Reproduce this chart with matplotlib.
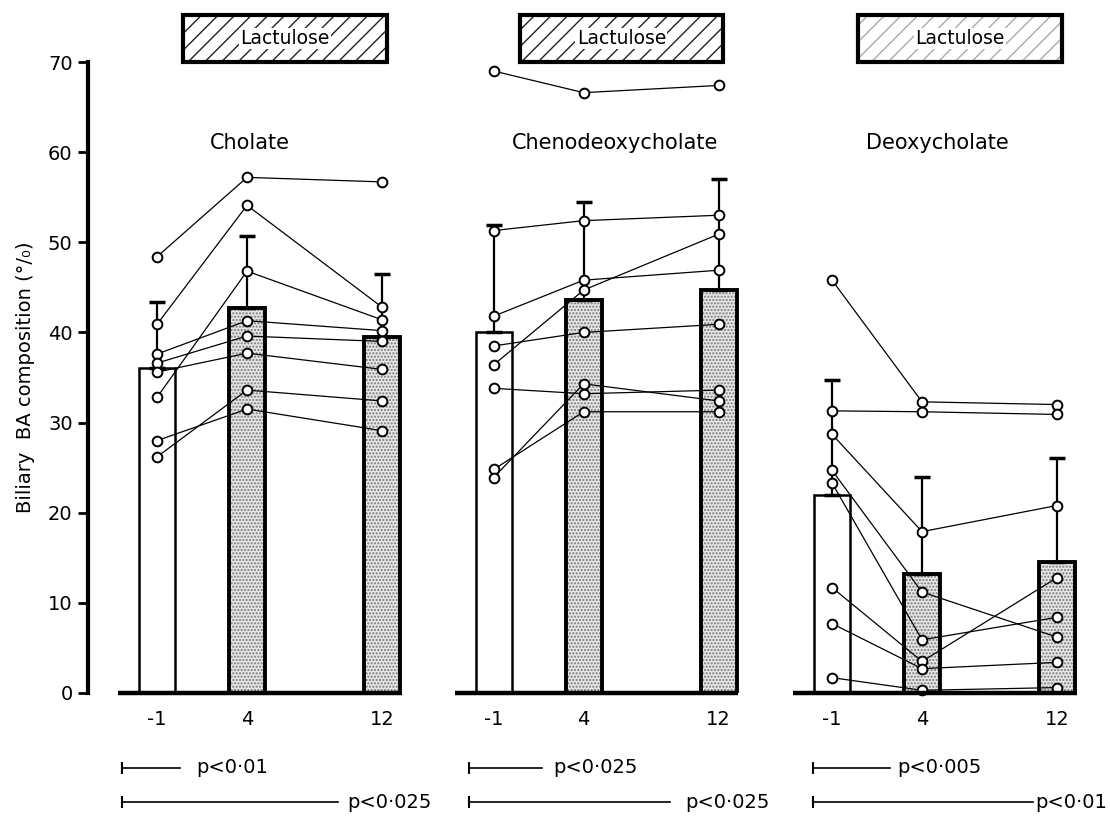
import numpy as np
import matplotlib.pyplot as plt
from matplotlib.patches import Rectangle

days = ['-1', '4', '12']
panels = ['Cholate', 'Chenodeoxycholate', 'Deoxycholate']

# one row per subject: day -1, day 4, day 12 (% of biliary bile acids)
cholate = [[48.4, 57.2, 56.7],
           [40.9, 54.1, 42.8],
           [32.8, 46.8, 41.4],
           [37.6, 41.3, 40.2],
           [36.6, 39.6, 39.0],
           [35.6, 37.7, 35.9],
           [28.0, 31.5, 29.1],
           [26.2, 33.6, 32.4]]
cheno = [[69.0, 66.6, 67.4],
         [51.3, 52.4, 53.0],
         [41.8, 45.8, 46.9],
         [38.5, 40.0, 40.9],
         [36.4, 44.7, 50.9],
         [33.8, 33.2, 33.6],
         [24.8, 31.2, 31.2],
         [23.9, 34.3, 32.4]]
deoxy = [[45.8, 32.3, 32.0],
         [31.3, 31.2, 30.9],
         [28.7, 17.9, 20.8],
         [24.7, 11.2, 6.2],
         [23.3, 5.9, 8.4],
         [11.7, 3.5, 12.8],
         [7.7, 2.7, 3.4],
         [1.7, 0.3, 0.6]]

cholate_mean = [36.1, 42.7, 39.5]
cheno_mean = [40.1, 43.6, 44.7]
deoxy_mean = [22.0, 13.2, 14.5]
cholate_sd_top = [43.4, 50.7, 46.5]
cheno_sd_top = [51.9, 54.5, 57.0]
deoxy_sd_top = [34.7, 24.0, 26.1]

p_short = ['p<0·01', 'p<0·025', 'p<0·005']
p_long = ['p<0·025', 'p<0·025', 'p<0·01']

subjects = [cholate, cheno, deoxy]
means = [cholate_mean, cheno_mean, deoxy_mean]
sd_tops = [cholate_sd_top, cheno_sd_top, deoxy_sd_top]

# layout (x in units of the -1 -> 4 spacing)
day_x = np.array([0, 1, 2.5])
panel_x0 = [0, 3.74, 7.5]
short_end = [0.26, 0.54, 0.64]
short_txt = [0.44, 0.66, 0.73]
long_end = [2.01, 1.96, 2.23]
long_txt = [2.11, 2.13, 2.26]
line_start = [-0.39, -0.27, -0.21]

fig = plt.figure(figsize=(11.1, 8.17), dpi=100)
ax = fig.add_axes([88 / 1110, 124 / 817, 1012 / 1110, 631 / 817])
ax.set_ylim(0, 70)
ax.set_xlim(-0.767, -0.767 + 1012 / 90)

for i in range(3):
    x = panel_x0[i] + day_x
    m = np.array(means[i])
    top = np.array(sd_tops[i])

    # baseline of each panel
    ax.plot([panel_x0[i] - 0.43, panel_x0[i] + 2.72], [0, 0], color='k', lw=3.2,
            solid_capstyle='butt', clip_on=False, zorder=5)

    # control bar (open) and lactulose bars (stippled)
    ax.bar(x[0], m[0], width=0.4, facecolor='white', edgecolor='k', linewidth=1.8, zorder=2)
    ax.bar(x[1:], m[1:], width=0.4, facecolor='#e6e6e6', edgecolor='#777777',
           hatch='.....', linewidth=0, zorder=2)
    ax.bar(x[1:], m[1:], width=0.4, fill=False, edgecolor='k', linewidth=2.8, zorder=2)

    ax.errorbar(x, m, yerr=[np.zeros(3), top - m], fmt='none', ecolor='k',
                elinewidth=1.6, capsize=6, capthick=2.5, zorder=3)

    for s in subjects[i]:
        ax.plot(x, s, '-o', color='k', lw=0.9, ms=7, mfc='white', mec='k',
                mew=1.4, zorder=4, clip_on=False)

    ax.text(panel_x0[i] + [1.03, 1.35, 1.17][i], 61.0, panels[i], fontsize=15,
            ha='center', va='center')

    # lactulose box
    bx0, bx1 = panel_x0[i] + 0.29, panel_x0[i] + 2.55
    hcol = '#222222' if i < 2 else '#aaaaaa'
    ax.add_patch(Rectangle((bx0, 70.0), bx1 - bx0, 5.2, facecolor='white',
                           edgecolor=hcol, hatch='//', linewidth=0, clip_on=False))
    ax.add_patch(Rectangle((bx0, 70.0), bx1 - bx0, 5.2, fill=False,
                           edgecolor='k', linewidth=3, clip_on=False))
    ax.text((bx0 + bx1) / 2, 72.6, 'Lactulose', fontsize=13.5, ha='center', va='center',
            bbox=dict(facecolor='white', edgecolor='none', pad=1), clip_on=False)

    # significance bars
    x0 = panel_x0[i]
    ax.plot([x0 + line_start[i], x0 + short_end[i]], [-8.3, -8.3], color='k', lw=1.2,
            clip_on=False)
    ax.plot([x0 + line_start[i]], [-8.3], marker='|', color='k', ms=9, mew=1.5, clip_on=False)
    ax.text(x0 + short_txt[i], -8.3, p_short[i], fontsize=14, va='center', ha='left')
    ax.plot([x0 + line_start[i], x0 + long_end[i]], [-12.1, -12.1], color='k', lw=1.2,
            clip_on=False)
    ax.plot([x0 + line_start[i]], [-12.1], marker='|', color='k', ms=9, mew=1.5, clip_on=False)
    ax.text(x0 + long_txt[i], -12.1, p_long[i], fontsize=14, va='center', ha='left')

ax.set_xticks(np.concatenate([x0 + day_x for x0 in panel_x0]), labels=days * 3)
ax.tick_params(axis='x', length=0, pad=12, labelsize=14)
ax.set_yticks(range(0, 71, 10))
ax.tick_params(axis='y', direction='out', length=7, width=2, labelsize=14, pad=4)

for side in ['top', 'right', 'bottom']:
    ax.spines[side].set_visible(False)
ax.spines['left'].set_linewidth(3)
ax.spines['left'].set_bounds(0, 70)

ax.set_ylabel('Biliary  BA composition (°/₀)', fontsize=14)
ax.yaxis.set_label_coords(-0.052, 0.50)

fig.savefig('out.png', dpi=100)
